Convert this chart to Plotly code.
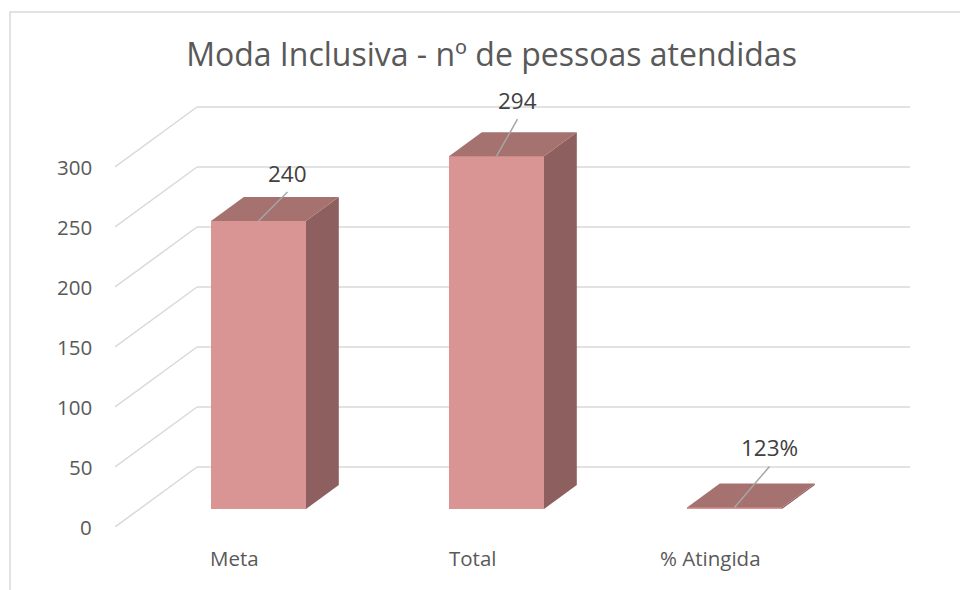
import plotly.graph_objects as go

# ---- data ----
categories = ["Meta", "Total", "% Atingida"]
values = [240, 294, 1.23]
value_labels = ["240", "294", "123%"]
y_ticks = [0, 50, 100, 150, 200, 250, 300]
title_text = "Moda Inclusiva - nº de pessoas atendidas"

# ---- style / geometry ----
FRONT = "#D99594"
TOP = "#A5726F"
SIDE = "#8D5F5E"
GRID = "#D9D9D9"
TXT = "#595959"
FONT = "Open Sans"

PX_X = 238.0          # pixels per category unit
PX_Y = 1.2            # pixels per value unit
BAR_W = 95 / PX_X
DEPTH_X = 82 / PX_X   # full floor depth (x)
DEPTH_Y = 60 / PX_Y   # full floor depth (value units)
BAR_FRONT = 0.3       # fraction of depth where bar front sits
BAR_BACK = 0.7

front_shift = -BAR_FRONT * DEPTH_Y
back_shift = (1 - BAR_FRONT) * DEPTH_Y
x_min = -(258.5 - 115) / PX_X
x_max = (910 - 258.5) / PX_X
wall_x = x_min + DEPTH_X

m_l, m_r, m_t, m_b = 115, 50, 100, 63
plot_h = 590 - m_t - m_b
y_min = front_shift
y_max = y_min + plot_h / PX_Y

fig = go.Figure()

shapes = []
for t in y_ticks:
    shapes.append(dict(type="line", xref="x", yref="y", layer="below",
                       x0=x_min, y0=t + front_shift, x1=wall_x, y1=t + back_shift,
                       line=dict(color=GRID, width=1.5)))
    shapes.append(dict(type="line", xref="x", yref="y", layer="below",
                       x0=wall_x, y0=t + back_shift, x1=x_max, y1=t + back_shift,
                       line=dict(color=GRID, width=1.5)))

d_x = (BAR_BACK - BAR_FRONT) * DEPTH_X
d_y = (BAR_BACK - BAR_FRONT) * DEPTH_Y

fig.add_trace(go.Bar(x=list(range(len(categories))), y=values, width=BAR_W,
                     marker=dict(color=FRONT, line=dict(width=0)),
                     hoverinfo="skip", showlegend=False))

for i, v in enumerate(values):
    x0 = i - BAR_W / 2
    x1 = i + BAR_W / 2
    shapes.append(dict(type="path", xref="x", yref="y", layer="above",
                       path=f"M {x1},0 L {x1},{v} L {x1+d_x},{v+d_y} L {x1+d_x},{d_y} Z",
                       fillcolor=SIDE, line=dict(width=0)))
    shapes.append(dict(type="path", xref="x", yref="y", layer="above",
                       path=f"M {x0},{v} L {x1},{v} L {x1+d_x},{v+d_y} L {x0+d_x},{v+d_y} Z",
                       fillcolor=TOP, line=dict(width=0)))

lead_dx_px = [29, 21, 35]
lead_dy_px = [29, 37, 41]
annotations = []
for i, v in enumerate(values):
    ex = i + lead_dx_px[i] / PX_X
    ey = v + lead_dy_px[i] / PX_Y
    shapes.append(dict(type="line", xref="x", yref="y", layer="above",
                       x0=i, y0=v, x1=ex, y1=ey,
                       line=dict(color="#A6A6A6", width=1.5)))
    annotations.append(dict(x=ex, y=ey, xref="x", yref="y", text=value_labels[i],
                            showarrow=False, yanchor="middle", yshift=19,
                            font=dict(family=FONT, size=22.5, color="#404040")))

for t in y_ticks:
    annotations.append(dict(x=x_min, y=t + front_shift, xref="x", yref="y",
                            text=str(t), showarrow=False, xanchor="right",
                            xshift=-21, font=dict(family=FONT, size=20.5, color=TXT)))

for i, c in enumerate(categories):
    annotations.append(dict(x=i - 24 / PX_X, y=y_min, xref="x", yref="y",
                            text=c, showarrow=False, yanchor="middle", yshift=-31,
                            font=dict(family=FONT, size=20.5, color=TXT)))

shapes.append(dict(type="rect", xref="paper", yref="paper", layer="above",
                   x0=-(m_l - 10) / (960 - m_l - m_r), x1=2,
                   y0=-1, y1=1 + (m_t - 12) / plot_h,
                   line=dict(color=GRID, width=1.5)))

fig.update_layout(
    width=960, height=590,
    margin=dict(l=m_l, r=m_r, t=m_t, b=m_b),
    paper_bgcolor="white", plot_bgcolor="white",
    title=dict(text=title_text, x=491.5 / 960, xanchor="center", y=1 - 55 / 590,
               yanchor="middle", font=dict(family=FONT, size=32, color=TXT)),
    xaxis=dict(range=[x_min, x_max], showgrid=False, zeroline=False,
               showticklabels=False, fixedrange=True),
    yaxis=dict(range=[y_min, y_max], showgrid=False, zeroline=False,
               showticklabels=False, fixedrange=True),
    shapes=shapes, annotations=annotations, bargap=0,
)

fig.write_html("out.html", config={"displayModeBar": False},
               post_script="document.body.style.margin='0';")
